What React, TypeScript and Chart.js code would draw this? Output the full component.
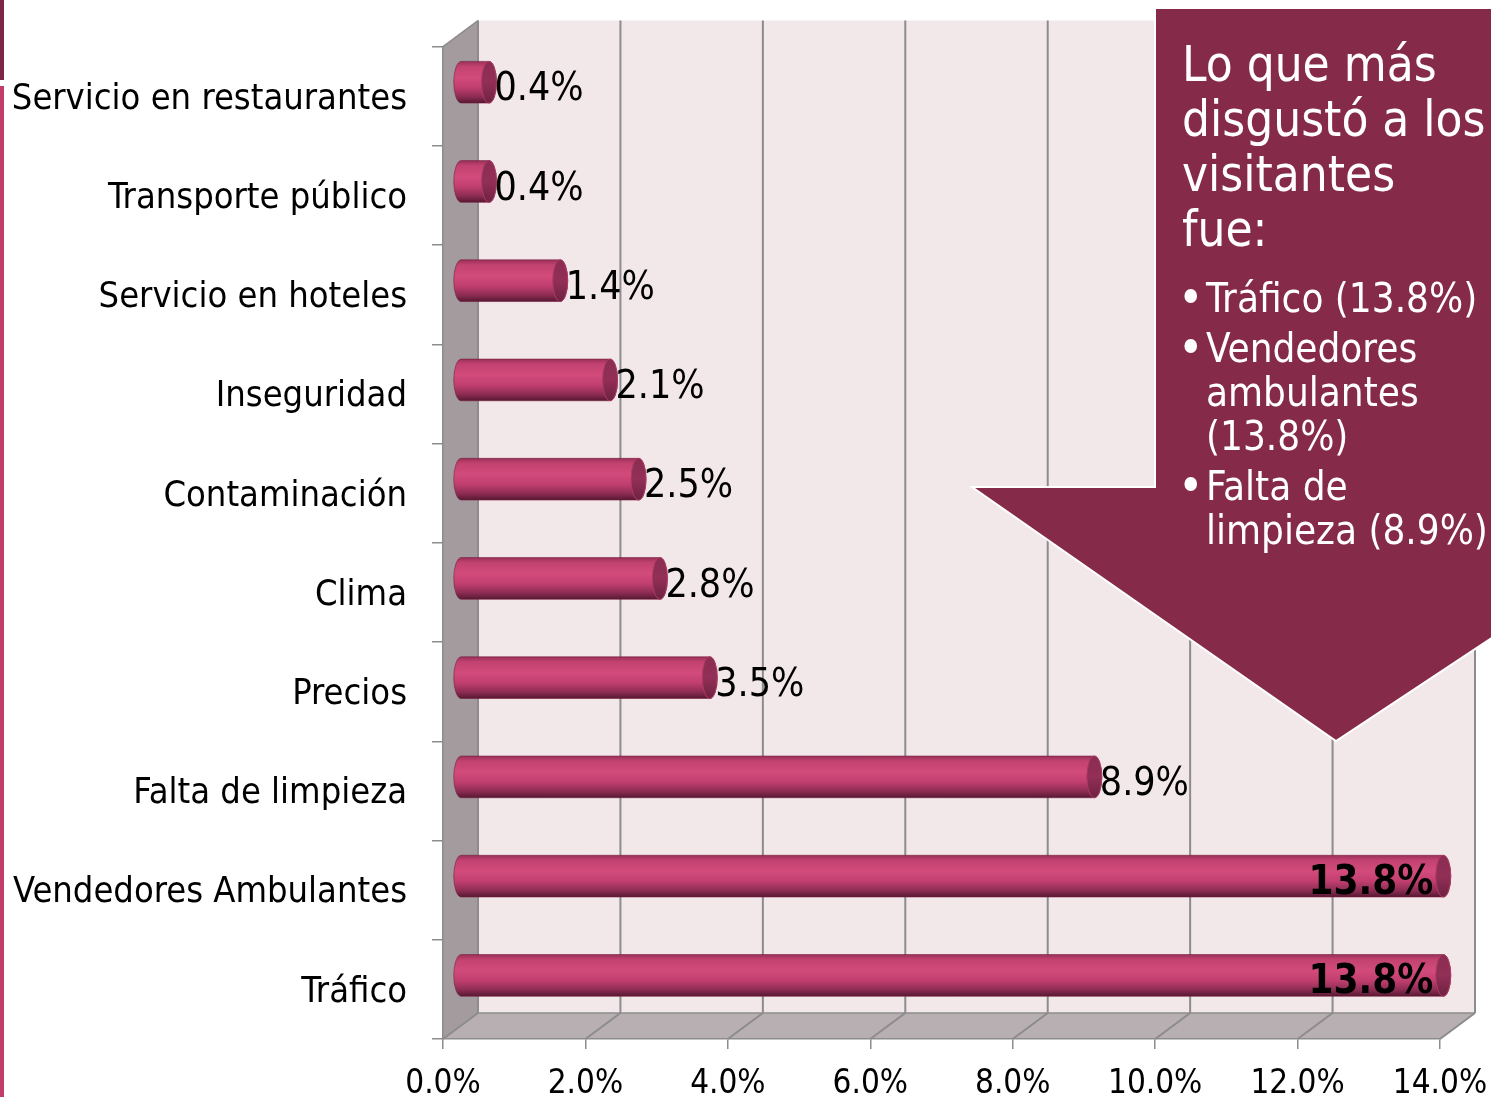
import { useEffect, useRef } from 'react';
import { Chart, registerables } from 'chart.js';

Chart.register(...registerables);

const categories = [
  'Servicio en restaurantes',
  'Transporte público',
  'Servicio en hoteles',
  'Inseguridad',
  'Contaminación',
  'Clima',
  'Precios',
  'Falta de limpieza',
  'Vendedores Ambulantes',
  'Tráfico',
];
const values = [0.4, 0.4, 1.4, 2.1, 2.5, 2.8, 3.5, 8.9, 13.8, 13.8];
const xTicks = [0, 2, 4, 6, 8, 10, 12, 14];
const calloutTitle = ['Lo que más', 'disgustó a los', 'visitantes', 'fue:'];
const calloutBullets = [
  ['Tráfico (13.8%)'],
  ['Vendedores', 'ambulantes', '(13.8%)'],
  ['Falta de', 'limpieza (8.9%)'],
];

const FONT = "'DejaVu Sans Condensed', 'DejaVu Sans', sans-serif";
const DX = 35;
const DY = -26;
const GRID = '#8c8c8c';

function poly(ctx: CanvasRenderingContext2D, pts: number[][], fill: string) {
  ctx.beginPath();
  ctx.moveTo(pts[0][0], pts[0][1]);
  for (let i = 1; i < pts.length; i++) ctx.lineTo(pts[i][0], pts[i][1]);
  ctx.closePath();
  ctx.fillStyle = fill;
  ctx.fill();
}

function line(ctx: CanvasRenderingContext2D, x1: number, y1: number, x2: number, y2: number) {
  ctx.beginPath();
  ctx.moveTo(x1, y1);
  ctx.lineTo(x2, y2);
  ctx.stroke();
}

const wallsPlugin = {
  id: 'walls',
  beforeDraw(chart: any) {
    const { ctx, chartArea: a, scales } = chart;
    const x = scales.x;
    ctx.save();
    // page edge strips
    ctx.fillStyle = '#7b2748';
    ctx.fillRect(0, 0, 4, 80);
    ctx.fillStyle = '#c13d6b';
    ctx.fillRect(0, 86, 4, chart.height - 86);
    // back wall
    poly(ctx, [[a.left + DX, a.top + DY], [a.right + DX, a.top + DY], [a.right + DX, a.bottom + DY], [a.left + DX, a.bottom + DY]], '#f2e8ea');
    // left wall
    poly(ctx, [[a.left, a.top], [a.left + DX, a.top + DY], [a.left + DX, a.bottom + DY], [a.left, a.bottom]], '#a39b9e');
    // floor
    poly(ctx, [[a.left, a.bottom], [a.left + DX, a.bottom + DY], [a.right + DX, a.bottom + DY], [a.right, a.bottom]], '#b8afb2');
    ctx.strokeStyle = GRID;
    ctx.lineWidth = 2;
    for (const v of xTicks) {
      const px = x.getPixelForValue(v);
      line(ctx, px + DX, a.top + DY, px + DX, a.bottom + DY);
      line(ctx, px, a.bottom, px + DX, a.bottom + DY);
    }
    ctx.lineWidth = 1.5;
    line(ctx, a.left, a.top, a.left + DX, a.top + DY);
    line(ctx, a.left + DX, a.bottom + DY, a.right + DX, a.bottom + DY);
    ctx.restore();
  },
  afterDatasetsDraw(chart: any) {
    const { ctx, chartArea: a } = chart;
    const meta = chart.getDatasetMeta(0);
    ctx.save();
    meta.data.forEach((el: any, i: number) => {
      const p = el.getProps(['x', 'y', 'base', 'height'], true);
      const h = p.height;
      const rx = 7.5;
      const x0 = p.base + DX / 2;
      const x1 = p.x + DX / 2;
      const yc = p.y + DY / 2 - 1;
      const top = yc - h / 2;
      const bot = yc + h / 2;
      const g = ctx.createLinearGradient(0, top, 0, bot);
      g.addColorStop(0, '#9a3059');
      g.addColorStop(0.12, '#c2426f');
      g.addColorStop(0.38, '#d24b7b');
      g.addColorStop(0.62, '#c13f6f');
      g.addColorStop(0.85, '#8c2c52');
      g.addColorStop(1, '#561832');
      ctx.beginPath();
      ctx.moveTo(x0, top);
      ctx.lineTo(x1, top);
      ctx.ellipse(x1, yc, rx, h / 2, 0, -Math.PI / 2, Math.PI / 2);
      ctx.lineTo(x0, bot);
      ctx.ellipse(x0, yc, rx, h / 2, 0, Math.PI / 2, Math.PI * 1.5);
      ctx.closePath();
      ctx.fillStyle = g;
      ctx.fill();
      ctx.strokeStyle = 'rgba(120,30,60,0.6)';
      ctx.lineWidth = 1;
      ctx.stroke();
      // end face
      const g2 = ctx.createLinearGradient(0, top, 0, bot);
      g2.addColorStop(0, '#8a2d52');
      g2.addColorStop(0.5, '#922f56');
      g2.addColorStop(1, '#6e2242');
      ctx.beginPath();
      ctx.ellipse(x1, yc, rx, h / 2, 0, 0, Math.PI * 2);
      ctx.fillStyle = g2;
      ctx.fill();
      ctx.strokeStyle = '#b03a64';
      ctx.stroke();

      // data label
      const text = values[i].toFixed(1) + '%';
      ctx.font = `39px ${FONT}`;
      const w = ctx.measureText(text).width;
      ctx.textBaseline = 'middle';
      ctx.fillStyle = '#000';
      if (x1 + rx + 2 + w > a.right + DX) {
        ctx.font = `bold 40px ${FONT}`;
        ctx.textAlign = 'right';
        ctx.fillText(text, x1 - 10, yc + 7);
      } else {
        ctx.textAlign = 'left';
        ctx.fillText(text, x1 + rx - 2, yc + 8);
      }
    });
    ctx.restore();
  },
  afterDraw(chart: any) {
    const { ctx } = chart;
    ctx.save();
    ctx.beginPath();
    ctx.moveTo(1155, 8);
    ctx.lineTo(1720, 8);
    ctx.lineTo(1720, 487);
    ctx.lineTo(1336, 741);
    ctx.lineTo(972, 487);
    ctx.lineTo(1155, 487);
    ctx.closePath();
    ctx.fillStyle = '#862a4a';
    ctx.fill();
    ctx.strokeStyle = '#ffffff';
    ctx.lineWidth = 2;
    ctx.stroke();

    ctx.fillStyle = '#ffffff';
    ctx.textAlign = 'left';
    ctx.textBaseline = 'alphabetic';
    ctx.font = `49px ${FONT}`;
    calloutTitle.forEach((t, i) => ctx.fillText(t, 1182, 81 + i * 55));
    let yb = 312;
    calloutBullets.forEach((lines) => {
      ctx.font = `48px ${FONT}`;
      ctx.fillText('•', 1178, yb + 2);
      ctx.font = `40px ${FONT}`;
      lines.forEach((t) => {
        ctx.fillText(t, 1206, yb);
        yb += 44;
      });
      yb += 6;
    });
    ctx.restore();
  },
};

export default function App() {
  const ref = useRef<HTMLCanvasElement | null>(null);
  useEffect(() => {
    if (!ref.current) return;
    const chart = new Chart(ref.current, {
      type: 'bar',
      data: {
        labels: categories,
        datasets: [
          {
            data: values,
            backgroundColor: 'rgba(0,0,0,0)',
            borderWidth: 0,
            barPercentage: 0.42,
            categoryPercentage: 1,
          },
        ],
      },
      options: {
        indexAxis: 'y',
        responsive: false,
        devicePixelRatio: 1,
        animation: false,
        layout: { padding: { top: 44, right: 51, bottom: 0, left: 0 } },
        plugins: { legend: { display: false }, tooltip: { enabled: false } },
        scales: {
          x: {
            min: 0,
            max: 14,
            afterBuildTicks: (s: any) => {
              s.ticks = xTicks.map((v) => ({ value: v }));
            },
            afterFit: (s: any) => {
              s.height = 58;
              s.paddingRight = 0;
              s.paddingLeft = 0;
            },
            ticks: {
              callback: (v: any) => Number(v).toFixed(1) + '%',
              font: { size: 33, family: FONT },
              color: '#000',
              padding: 16,
              maxRotation: 0,
              autoSkip: false,
            },
            grid: { drawOnChartArea: false, tickLength: 10, color: GRID, lineWidth: 1.5 },
            border: { display: true, color: GRID, width: 1.5 },
          },
          y: {
            afterFit: (s: any) => {
              s.width = 443;
            },
            ticks: {
              font: { size: 36, family: FONT },
              color: '#000',
              padding: 25,
              labelOffset: 3,
              autoSkip: false,
            },
            grid: { drawOnChartArea: false, tickLength: 11, color: GRID, lineWidth: 1.5, offset: true },
            border: { display: true, color: GRID, width: 1.5 },
          },
        },
      },
      plugins: [wallsPlugin],
    } as any);
    return () => chart.destroy();
  }, []);
  return (
    <canvas
      ref={ref}
      width={1491}
      height={1097}
      style={{ position: 'absolute', left: 0, top: 0, display: 'block' }}
    />
  );
}
